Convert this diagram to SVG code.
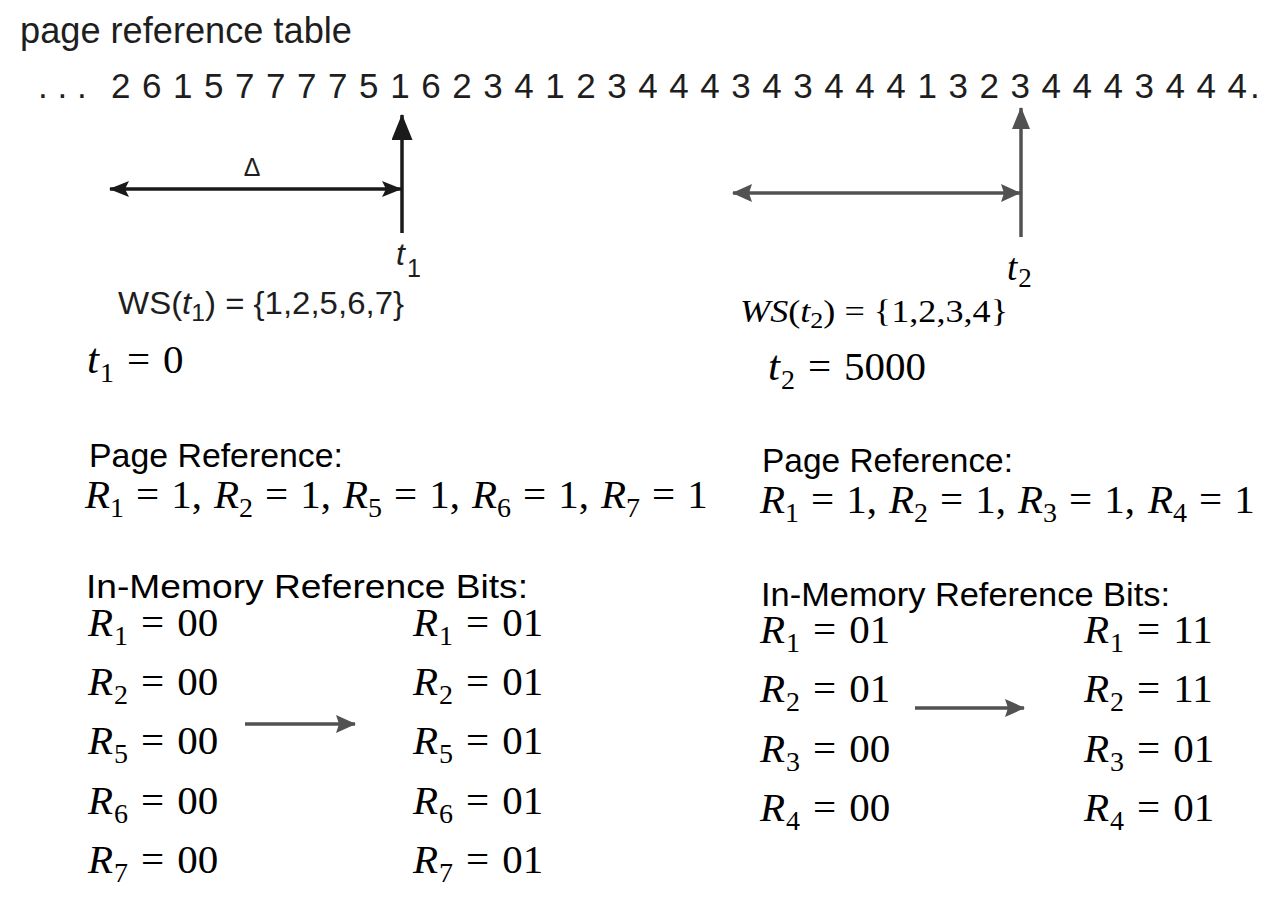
<svg xmlns="http://www.w3.org/2000/svg" width="1271" height="897" viewBox="0 0 1271 897">
<style>
.sans{font-family:"Liberation Sans",Arial,Helvetica,sans-serif;fill:#1e1e1e}
.serif{font-family:"Liberation Serif","Times New Roman",serif;fill:#000}
.it{font-style:italic}
.m{font-size:41px}
.sub{font-size:28px}
.lbl{font-size:34px;fill:#000}
.blk{stroke:#1a1a1a;stroke-width:3.5;fill:none}
.gry{stroke:#525252;stroke-width:3.5;fill:none}
</style>
<defs>
<marker id="hb" markerUnits="userSpaceOnUse" viewBox="0 0 20 16" refX="19" refY="8" markerWidth="20" markerHeight="16" orient="auto-start-reverse"><path d="M0,0 L20,8 L0,16 L4,8 Z" fill="#1a1a1a"/></marker>
<marker id="hbUp" markerUnits="userSpaceOnUse" viewBox="0 0 26 21" refX="25" refY="10.5" markerWidth="26" markerHeight="21" orient="auto"><path d="M0,0 L26,10.5 L0,21 Z" fill="#1a1a1a"/></marker>
<marker id="hg" markerUnits="userSpaceOnUse" viewBox="0 0 20 18" refX="19" refY="9" markerWidth="20" markerHeight="18" orient="auto-start-reverse"><path d="M0,0 L20,9 L0,18 L3,9 Z" fill="#525252"/></marker>
<marker id="hgUp" markerUnits="userSpaceOnUse" viewBox="0 0 22 18" refX="21" refY="9" markerWidth="22" markerHeight="18" orient="auto"><path d="M0,0 L22,9 L0,18 Z" fill="#525252"/></marker>
</defs>
<rect width="1271" height="897" fill="#fff"/>

<g id="timeline">
<text class="sans" x="20" y="43" font-size="36" textLength="332" lengthAdjust="spacingAndGlyphs">page reference table</text>
<text class="sans" x="38" y="98" font-size="35">. . .</text>
<text class="sans" x="111" y="98" font-size="35" textLength="1136" lengthAdjust="spacing">2 6 1 5 7 7 7 7 5 1 6 2 3 4 1 2 3 4 4 4 3 4 3 4 4 4 1 3 2 3 4 4 4 3 4 4 4</text>
<text class="sans" x="1250" y="98" font-size="35">.</text>
</g>

<g id="connectors">
<line class="blk" x1="402" y1="233" x2="402" y2="115" marker-end="url(#hbUp)"/>
<line class="blk" x1="110" y1="189" x2="401" y2="189" marker-start="url(#hb)" marker-end="url(#hb)"/>
<line class="gry" x1="1021" y1="237" x2="1021" y2="108" marker-end="url(#hgUp)"/>
<line class="gry" x1="733" y1="193" x2="1020" y2="193" marker-start="url(#hg)" marker-end="url(#hg)"/>
<line class="gry" x1="245" y1="724" x2="355" y2="724" marker-end="url(#hg)"/>
<line class="gry" x1="915" y1="708" x2="1024" y2="708" marker-end="url(#hg)"/>
</g>

<g id="t1-labels">
<text class="sans" x="252" y="176" font-size="25" text-anchor="middle">Δ</text>
<text class="sans" x="396" y="265" font-size="32"><tspan class="it">t</tspan><tspan font-size="25" dx="2" dy="12">1</tspan></text>
<text class="sans" x="118" y="314" font-size="32" textLength="286" lengthAdjust="spacingAndGlyphs">WS(<tspan class="it">t</tspan><tspan font-size="24" dy="7">1</tspan><tspan dy="-7">) = {1,2,5,6,7}</tspan></text>
<text class="serif m" x="87" y="373"><tspan class="it" font-size="43">t</tspan><tspan class="sub" dx="1" dy="9">1</tspan><tspan dx="13" dy="-9">=</tspan><tspan dx="13">0</tspan></text>
</g>

<g id="t2-labels">
<text class="serif" x="1007" y="280" font-size="37"><tspan class="it">t</tspan><tspan font-size="27" dx="1" dy="7">2</tspan></text>
<text class="serif" x="740" y="322" font-size="32" textLength="268" lengthAdjust="spacingAndGlyphs"><tspan class="it">WS</tspan>(<tspan class="it">t</tspan><tspan font-size="23" dy="6">2</tspan><tspan dy="-6">) = {1,2,3,4}</tspan></text>
<text class="serif m" x="768" y="380"><tspan class="it" font-size="43">t</tspan><tspan class="sub" dx="1" dy="9">2</tspan><tspan dx="13" dy="-9">=</tspan><tspan dx="13">5000</tspan></text>
</g>

<g id="left-panel">
<text class="sans lbl" x="89" y="467" textLength="254" lengthAdjust="spacingAndGlyphs">Page Reference:</text>
<text class="serif m" y="508">
<tspan class="it" x="85">R</tspan><tspan class="sub" dy="9">1</tspan><tspan dx="12" dy="-9">=</tspan><tspan dx="12">1,</tspan>
<tspan class="it" x="214">R</tspan><tspan class="sub" dy="9">2</tspan><tspan dx="12" dy="-9">=</tspan><tspan dx="12">1,</tspan>
<tspan class="it" x="343">R</tspan><tspan class="sub" dy="9">5</tspan><tspan dx="12" dy="-9">=</tspan><tspan dx="12">1,</tspan>
<tspan class="it" x="472">R</tspan><tspan class="sub" dy="9">6</tspan><tspan dx="12" dy="-9">=</tspan><tspan dx="12">1,</tspan>
<tspan class="it" x="601">R</tspan><tspan class="sub" dy="9">7</tspan><tspan dx="12" dy="-9">=</tspan><tspan dx="12">1</tspan>
</text>
<text class="sans lbl" x="86" y="598" font-size="36" textLength="442" lengthAdjust="spacingAndGlyphs">In-Memory Reference Bits:</text>
<g id="left-before">
<text class="serif m" x="88" y="636"><tspan class="it">R</tspan><tspan class="sub" dx="1" dy="9">1</tspan><tspan dx="13" dy="-9">=</tspan><tspan dx="13">00</tspan></text>
<text class="serif m" x="88" y="695"><tspan class="it">R</tspan><tspan class="sub" dx="1" dy="9">2</tspan><tspan dx="13" dy="-9">=</tspan><tspan dx="13">00</tspan></text>
<text class="serif m" x="88" y="754"><tspan class="it">R</tspan><tspan class="sub" dx="1" dy="9">5</tspan><tspan dx="13" dy="-9">=</tspan><tspan dx="13">00</tspan></text>
<text class="serif m" x="88" y="814"><tspan class="it">R</tspan><tspan class="sub" dx="1" dy="9">6</tspan><tspan dx="13" dy="-9">=</tspan><tspan dx="13">00</tspan></text>
<text class="serif m" x="88" y="873"><tspan class="it">R</tspan><tspan class="sub" dx="1" dy="9">7</tspan><tspan dx="13" dy="-9">=</tspan><tspan dx="13">00</tspan></text>
</g>
<g id="left-after">
<text class="serif m" x="413" y="636"><tspan class="it">R</tspan><tspan class="sub" dx="1" dy="9">1</tspan><tspan dx="13" dy="-9">=</tspan><tspan dx="13">01</tspan></text>
<text class="serif m" x="413" y="695"><tspan class="it">R</tspan><tspan class="sub" dx="1" dy="9">2</tspan><tspan dx="13" dy="-9">=</tspan><tspan dx="13">01</tspan></text>
<text class="serif m" x="413" y="754"><tspan class="it">R</tspan><tspan class="sub" dx="1" dy="9">5</tspan><tspan dx="13" dy="-9">=</tspan><tspan dx="13">01</tspan></text>
<text class="serif m" x="413" y="814"><tspan class="it">R</tspan><tspan class="sub" dx="1" dy="9">6</tspan><tspan dx="13" dy="-9">=</tspan><tspan dx="13">01</tspan></text>
<text class="serif m" x="413" y="873"><tspan class="it">R</tspan><tspan class="sub" dx="1" dy="9">7</tspan><tspan dx="13" dy="-9">=</tspan><tspan dx="13">01</tspan></text>
</g>
</g>

<g id="right-panel">
<text class="sans lbl" x="762" y="472" textLength="251" lengthAdjust="spacingAndGlyphs">Page Reference:</text>
<text class="serif m" y="513">
<tspan class="it" x="760">R</tspan><tspan class="sub" dy="9">1</tspan><tspan dx="12" dy="-9">=</tspan><tspan dx="12">1,</tspan>
<tspan class="it" x="889">R</tspan><tspan class="sub" dy="9">2</tspan><tspan dx="12" dy="-9">=</tspan><tspan dx="12">1,</tspan>
<tspan class="it" x="1018">R</tspan><tspan class="sub" dy="9">3</tspan><tspan dx="12" dy="-9">=</tspan><tspan dx="12">1,</tspan>
<tspan class="it" x="1148">R</tspan><tspan class="sub" dy="9">4</tspan><tspan dx="12" dy="-9">=</tspan><tspan dx="12">1</tspan>
</text>
<text class="sans lbl" x="761" y="606" textLength="409" lengthAdjust="spacingAndGlyphs">In-Memory Reference Bits:</text>
<g id="right-before">
<text class="serif m" x="760" y="643"><tspan class="it">R</tspan><tspan class="sub" dx="1" dy="9">1</tspan><tspan dx="13" dy="-9">=</tspan><tspan dx="13">01</tspan></text>
<text class="serif m" x="760" y="702"><tspan class="it">R</tspan><tspan class="sub" dx="1" dy="9">2</tspan><tspan dx="13" dy="-9">=</tspan><tspan dx="13">01</tspan></text>
<text class="serif m" x="760" y="762"><tspan class="it">R</tspan><tspan class="sub" dx="1" dy="9">3</tspan><tspan dx="13" dy="-9">=</tspan><tspan dx="13">00</tspan></text>
<text class="serif m" x="760" y="821"><tspan class="it">R</tspan><tspan class="sub" dx="1" dy="9">4</tspan><tspan dx="13" dy="-9">=</tspan><tspan dx="13">00</tspan></text>
</g>
<g id="right-after">
<text class="serif m" x="1084" y="643"><tspan class="it">R</tspan><tspan class="sub" dx="1" dy="9">1</tspan><tspan dx="13" dy="-9">=</tspan><tspan dx="13">11</tspan></text>
<text class="serif m" x="1084" y="702"><tspan class="it">R</tspan><tspan class="sub" dx="1" dy="9">2</tspan><tspan dx="13" dy="-9">=</tspan><tspan dx="13">11</tspan></text>
<text class="serif m" x="1084" y="762"><tspan class="it">R</tspan><tspan class="sub" dx="1" dy="9">3</tspan><tspan dx="13" dy="-9">=</tspan><tspan dx="13">01</tspan></text>
<text class="serif m" x="1084" y="821"><tspan class="it">R</tspan><tspan class="sub" dx="1" dy="9">4</tspan><tspan dx="13" dy="-9">=</tspan><tspan dx="13">01</tspan></text>
</g>
</g>
</svg>
